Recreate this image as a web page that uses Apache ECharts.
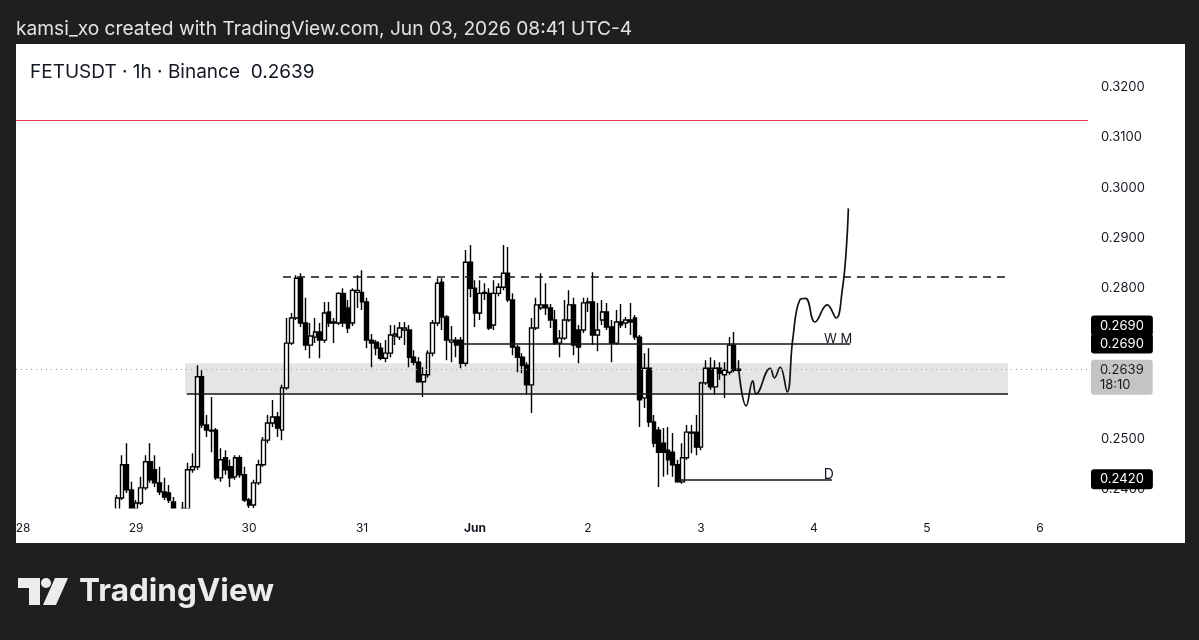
<!DOCTYPE html>
<html><head><meta charset="utf-8">
<script src="https://cdn.jsdelivr.net/npm/echarts@6/dist/echarts.min.js"></script>
<style>html,body{margin:0;padding:0;background:#1f1f1f;overflow:hidden}#c{width:1199px;height:640px}</style>
</head><body><div id="c"></div>
<script>
// ---- data (hours counted from May 29 00:00, UTC-4) ----
const candleStartHour = -4;
const openP = [
.2359,.2383,.2449,.2399,.2361,.2373,.2403,.2455,.2439,.2413,
.2395,.2393,.2375,.2359,.2350,.2361,.2439,.2445,.2624,.2528,
.2518,.2518,.2423,.2463,.2445,.2425,.2463,.2429,.2379,.2369,
.2413,.2449,.2498,.2532,.2544,.2518,.2602,.2691,.2741,.2820,
.2731,.2687,.2703,.2713,.2697,.2753,.2731,.2731,.2790,.2761,
.2731,.2792,.2792,.2773,.2697,.2693,.2681,.2661,.2671,.2705,
.2703,.2717,.2717,.2663,.2653,.2614,.2628,.2671,.2731,.2812,
.2743,.2693,.2697,.2697,.2651,.2852,.2800,.2751,.2790,.2790,
.2727,.2790,.2802,.2830,.2777,.2683,.2663,.2647,.2608,.2721,
.2761,.2767,.2761,.2737,.2691,.2701,.2737,.2767,.2717,.2717,
.2771,.2773,.2707,.2737,.2753,.2723,.2691,.2733,.2731,.2737,
.2741,.2703,.2582,.2641,.2534,.2518,.2492,.2478,.2474,.2449,
.2415,.2463,.2514,.2514,.2484,.2612,.2641,.2604,.2641,.2628,
.2633,.2687,.2637];
const highP = [
.2389,.2468,.2492,.2415,.2379,.2425,.2468,.2492,.2468,.2445,
.2423,.2409,.2385,.2362,.2375,.2453,.2472,.2647,.2637,.2548,
.2584,.2522,.2482,.2478,.2459,.2468,.2468,.2445,.2383,.2419,
.2459,.2504,.2548,.2578,.2554,.2608,.2741,.2751,.2826,.2830,
.2781,.2731,.2741,.2731,.2773,.2773,.2741,.2792,.2800,.2777,
.2800,.2826,.2836,.2781,.2709,.2697,.2691,.2697,.2727,.2727,
.2733,.2733,.2727,.2677,.2663,.2643,.2677,.2737,.2820,.2820,
.2747,.2725,.2703,.2703,.2876,.2886,.2816,.2816,.2810,.2800,
.2816,.2810,.2886,.2882,.2790,.2687,.2671,.2653,.2741,.2781,
.2830,.2810,.2769,.2757,.2717,.2777,.2796,.2781,.2727,.2781,
.2781,.2832,.2771,.2777,.2771,.2737,.2757,.2769,.2743,.2771,
.2747,.2707,.2671,.2681,.2548,.2524,.2522,.2524,.2512,.2459,
.2492,.2528,.2528,.2548,.2614,.2657,.2663,.2657,.2653,.2653,
.2703,.2713,.2657];
const lowP = [
.2355,.2379,.2393,.2355,.2355,.2369,.2399,.2413,.2405,.2389,
.2379,.2373,.2355,.2342,.2344,.2355,.2433,.2439,.2522,.2504,
.2474,.2419,.2415,.2429,.2405,.2419,.2423,.2375,.2363,.2363,
.2409,.2445,.2492,.2524,.2504,.2498,.2598,.2687,.2737,.2723,
.2677,.2661,.2691,.2661,.2691,.2723,.2691,.2727,.2723,.2711,
.2725,.2761,.2757,.2681,.2643,.2667,.2657,.2653,.2663,.2687,
.2697,.2687,.2643,.2647,.2612,.2584,.2622,.2665,.2725,.2717,
.2657,.2653,.2663,.2641,.2645,.2782,.2723,.2737,.2777,.2717,
.2717,.2784,.2796,.2773,.2667,.2633,.2631,.2588,.2552,.2717,
.2757,.2747,.2721,.2687,.2663,.2697,.2733,.2667,.2651,.2711,
.2753,.2687,.2675,.2727,.2717,.2653,.2687,.2721,.2721,.2707,
.2697,.2524,.2562,.2524,.2484,.2405,.2425,.2429,.2425,.2413,
.2411,.2459,.2472,.2468,.2478,.2608,.2598,.2588,.2618,.2582,
.2628,.2633,.2633];
const closeP = [
.2383,.2449,.2399,.2361,.2373,.2403,.2455,.2419,.2413,.2395,
.2385,.2379,.2359,.2345,.2362,.2439,.2445,.2624,.2528,.2518,
.2516,.2423,.2459,.2439,.2423,.2463,.2429,.2379,.2369,.2413,
.2449,.2498,.2532,.2544,.2522,.2602,.2691,.2741,.2820,.2731,
.2687,.2705,.2713,.2697,.2751,.2731,.2733,.2790,.2731,.2721,
.2796,.2796,.2773,.2697,.2691,.2681,.2661,.2671,.2707,.2709,
.2721,.2721,.2663,.2653,.2614,.2628,.2671,.2731,.2810,.2743,
.2697,.2697,.2687,.2651,.2852,.2800,.2751,.2790,.2792,.2721,
.2790,.2802,.2830,.2777,.2683,.2663,.2647,.2608,.2721,.2767,
.2767,.2761,.2737,.2691,.2701,.2737,.2767,.2687,.2683,.2771,
.2773,.2707,.2717,.2753,.2723,.2691,.2733,.2727,.2737,.2733,
.2703,.2578,.2641,.2534,.2492,.2474,.2474,.2459,.2449,.2415,
.2463,.2514,.2512,.2484,.2612,.2641,.2604,.2641,.2631,.2637,
.2687,.2637,.2639];

// drawn projection path (hand-drawn curve)
const projHours  = [128, 129.6, 131.0, 131.7, 134.7, 135.6, 136.8, 138.3, 139.5, 141.0, 142.2, 144.2, 146.8, 148.7, 150.0, 150.8, 151.3];
const projPrices = [0.2639, 0.2566, 0.2616, 0.2590, 0.2641, 0.2622, 0.2643, 0.2594, 0.2700, 0.2777, 0.2780, 0.2733, 0.2767, 0.2741, 0.2796, 0.2870, 0.2959];

// horizontal levels
const redLevel = 0.3134;
const lastPrice = 0.2639;
const countdown = '18:10';
const dashLevel = 0.2824, dashRange = [31.2, 185.2];
const wmLevel = 0.2690, wmRange = [69.2, 151.7], wmText = 'W M';
const zoneTop = 0.2651, zoneBottom = 0.2590, zoneRange = [10.4, 185.2], zoneLineRange = [10.8, 185.2];
const dLevel = 0.2420, dRange = [115.1, 147.8], dText = 'D';

// axis ticks
const priceTicks = [0.24, 0.25, 0.28, 0.29, 0.30, 0.31, 0.32];
const dayHours  = [-24, 0, 24, 48, 72, 96, 120, 144, 168, 192];
const dayLabels = ['28', '29', '30', '31', 'Jun', '2', '3', '4', '5', '6'];

const headerText = 'kamsi_xo created with TradingView.com, Jun 03, 2026 08:41 UTC-4';
const titleText = 'FETUSDT · 1h · Binance  0.2639';

// ---- build ----
const FONT = 'Inter, Roboto, "Liberation Sans", sans-serif';
const candles = openP.map((o, i) => [candleStartHour + i, o, closeP[i], lowP[i], highP[i]]);
const proj = projHours.map((h, i) => [h, projPrices[i]]);

function boxLabel(text, bg, fg, dy) {
  return { show: true, position: 'end', distance: 3, formatter: text, backgroundColor: bg, color: fg,
    fontSize: 13, fontFamily: FONT, padding: [3, 9, 2, 9], borderRadius: 3, offset: [0, dy], lineHeight: 15 };
}
const noLine = { color: 'rgba(0,0,0,0)', width: 0 };
const blackLine = { color: '#131313', width: 1.5, type: 'solid' };

const option = {
  backgroundColor: '#1f1f1f',
  animation: false,
  textStyle: { fontFamily: FONT },
  graphic: [
    { type: 'rect', z: -10, shape: { x: 16, y: 44, width: 1169, height: 499 }, style: { fill: '#ffffff' } },
    { type: 'rect', z: 50, shape: { x: 16, y: 508.5, width: 1072, height: 12 }, style: { fill: '#ffffff' } },
    { type: 'text', left: 16, top: 20, style: { text: headerText, fill: '#e2e2e2', font: '19.2px ' + FONT } },
    { type: 'text', left: 30, top: 63, style: { text: titleText, fill: '#131722', font: '19px ' + FONT } },
    // TradingView logo
    { type: 'polygon', shape: { points: [[18,578],[40,578],[40,605],[29,605],[29,588],[18,588]] }, style: { fill: '#ececec' } },
    { type: 'circle', shape: { cx: 46, cy: 583, r: 5 }, style: { fill: '#ececec' } },
    { type: 'polygon', shape: { points: [[55,578],[68,578],[56,605],[43,605]] }, style: { fill: '#ececec' } },
    { type: 'text', left: 79, top: 576, style: { text: 'TradingView', fill: '#ececec', font: 'bold 31.5px ' + FONT } }
  ],
  grid: { left: 16, right: 111, top: 44, bottom: 132, containLabel: false },
  xAxis: {
    type: 'value', min: -25.5, max: 202.2,
    axisLine: { show: false }, axisTick: { show: false }, splitLine: { show: false },
    axisLabel: {
      customValues: dayHours, margin: 14, color: '#131722', fontSize: 12, fontFamily: FONT,
      formatter: v => { const i = dayHours.indexOf(v); const t = dayLabels[i]; return isNaN(+t) ? '{b|' + t + '}' : t; },
      rich: { b: { fontWeight: 'bold', fontSize: 12, color: '#131722', fontFamily: FONT } }
    }
  },
  yAxis: {
    type: 'value', position: 'right', min: 0.2363, max: 0.3286, scale: true,
    axisLine: { show: false }, axisTick: { show: false }, splitLine: { show: false },
    axisLabel: { customValues: priceTicks, margin: 13, color: '#131722', fontSize: 13, fontFamily: FONT,
      formatter: v => v.toFixed(4) }
  },
  series: [
    {
      type: 'line', data: [], z: 1, silent: true,
      markArea: { silent: true, itemStyle: { color: '#e5e5e5' },
        data: [[{ coord: [zoneRange[0], zoneTop] }, { coord: [zoneRange[1], zoneBottom] }]] }
    },
    {
      type: 'candlestick', z: 3, clip: true, barWidth: 4.3,
      encode: { x: 0, y: [1, 2, 3, 4] },
      data: candles,
      itemStyle: { color: '#ffffff', color0: '#000000', borderColor: '#000000', borderColor0: '#000000', borderWidth: 1.4 }
    },
    {
      type: 'line', z: 4, data: proj, smooth: 0.45, symbol: 'none', silent: true,
      lineStyle: { color: '#111111', width: 1.7 },
      markLine: {
        silent: true, symbol: ['none', 'none'], animation: false, precision: 4,
        data: [
          { yAxis: redLevel, lineStyle: { color: '#e8374b', width: 1.2, type: 'solid' }, label: { show: false } },
          { yAxis: lastPrice, lineStyle: { color: '#9a9a9a', width: 1, type: [1, 4] },
            label: boxLabel(lastPrice.toFixed(4) + '\n' + countdown, '#c4c4c4', '#1a1a1a', 8) },
          [ { coord: [dashRange[0], dashLevel], lineStyle: { color: '#131313', width: 1.5, type: [8, 6] }, label: { show: false } },
            { coord: [dashRange[1], dashLevel] } ],
          [ { coord: [zoneLineRange[0], zoneBottom], lineStyle: blackLine, label: { show: false } },
            { coord: [zoneLineRange[1], zoneBottom] } ],
          [ { coord: [wmRange[0], wmLevel], lineStyle: blackLine,
              label: { show: true, position: 'insideEndTop', formatter: wmText, color: '#131722', fontSize: 13, distance: -2, fontFamily: FONT } },
            { coord: [wmRange[1], wmLevel] } ],
          [ { coord: [dRange[0], dLevel], lineStyle: blackLine,
              label: { show: true, position: 'insideEndTop', formatter: dText, color: '#131722', fontSize: 14, distance: -2, fontFamily: FONT } },
            { coord: [dRange[1], dLevel] } ],
          { yAxis: wmLevel, lineStyle: noLine, label: boxLabel(wmLevel.toFixed(4), '#000000', '#ffffff', -18) },
          { yAxis: wmLevel, lineStyle: noLine, label: boxLabel(wmLevel.toFixed(4), '#000000', '#ffffff', 0) },
          { yAxis: dLevel, lineStyle: noLine, label: boxLabel(dLevel.toFixed(4), '#000000', '#ffffff', 0) }
        ]
      }
    }
  ]
};
const chart = echarts.init(document.getElementById('c'));
chart.setOption(option);
</script></body></html>
